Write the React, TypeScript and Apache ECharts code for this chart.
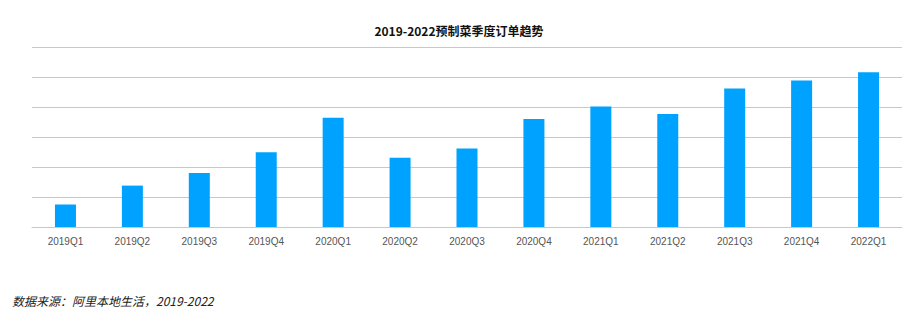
import React, { useEffect, useRef } from "react";
import * as echarts from "echarts";

const categories = [
  "2019Q1", "2019Q2", "2019Q3", "2019Q4",
  "2020Q1", "2020Q2", "2020Q3", "2020Q4",
  "2021Q1", "2021Q2", "2021Q3", "2021Q4",
  "2022Q1",
];
const orders = [0.75, 1.38, 1.8, 2.49, 3.64, 2.31, 2.62, 3.6, 4.02, 3.77, 4.62, 4.88, 5.16];
const titleText = "2019-2022预制菜季度订单趋势";
const sourceText = "数据来源：阿里本地生活，2019-2022";

export default function App() {
  const ref = useRef<HTMLDivElement>(null);
  useEffect(() => {
    if (!ref.current) return;
    const chart = echarts.init(ref.current, null, { renderer: "svg" });
    chart.setOption({
      animation: false,
      backgroundColor: "#ffffff",
      title: {
        text: titleText,
        left: "center",
        top: 19,
        textStyle: {
          fontFamily: "Noto Sans CJK SC",
          fontSize: 12,
          fontWeight: "bold",
          color: "#111111",
        },
      },
      grid: { left: 32, right: 16, top: 47, bottom: 90, containLabel: false },
      xAxis: {
        type: "category",
        data: categories,
        axisLine: { show: true, lineStyle: { color: "#c8c8c8", width: 1 } },
        axisTick: { show: false },
        axisLabel: {
          color: "#555555",
          fontSize: 10,
          fontFamily: "Liberation Sans",
          margin: 9,
        },
      },
      yAxis: {
        type: "value",
        min: 0,
        max: 6,
        interval: 1,
        axisLabel: { show: false },
        axisLine: { show: false },
        axisTick: { show: false },
        splitLine: { lineStyle: { color: "#c8c8c8", width: 1 } },
      },
      series: [
        {
          type: "bar",
          data: orders,
          barWidth: 21,
          itemStyle: { color: "#00a2ff" },
        },
      ],
      graphic: [
        {
          type: "text",
          left: 12,
          top: 294,
          style: {
            text: sourceText,
            fontFamily: "Noto Sans CJK SC",
            fontSize: 12,
            fontStyle: "italic",
            fill: "#222222",
          },
        },
      ],
    });
    return () => chart.dispose();
  }, []);
  return (
    <div
      ref={ref}
      style={{ position: "fixed", left: 0, top: 0, width: 918, height: 317 }}
    />
  );
}
